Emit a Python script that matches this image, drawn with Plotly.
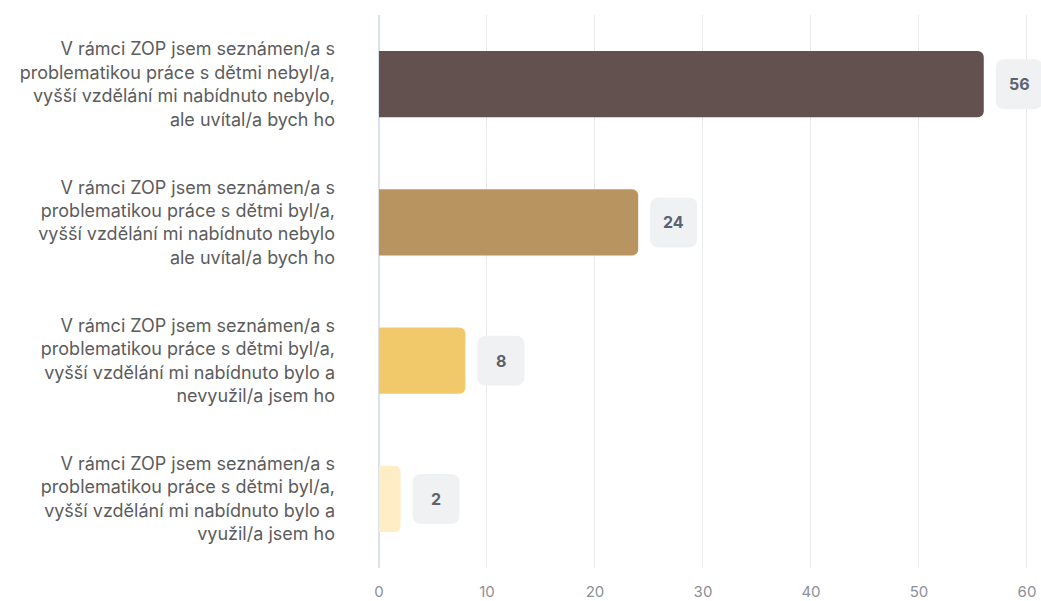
import plotly.graph_objects as go

categories = [
    "V rámci ZOP jsem seznámen/a s<br>problematikou práce s dětmi nebyl/a,<br>vyšší vzdělání mi nabídnuto nebylo,<br>ale uvítal/a bych ho",
    "V rámci ZOP jsem seznámen/a s<br>problematikou práce s dětmi byl/a,<br>vyšší vzdělání mi nabídnuto nebylo<br>ale uvítal/a bych ho",
    "V rámci ZOP jsem seznámen/a s<br>problematikou práce s dětmi byl/a,<br>vyšší vzdělání mi nabídnuto bylo a<br>nevyužil/a jsem ho",
    "V rámci ZOP jsem seznámen/a s<br>problematikou práce s dětmi byl/a,<br>vyšší vzdělání mi nabídnuto bylo a<br>využil/a jsem ho",
]
values = [56, 24, 8, 2]
colors = ["#635150", "#b89460", "#f1c96b", "#feedc5"]
x_ticks = [0, 10, 20, 30, 40, 50, 60]

FONT = "Inter, Roboto, sans-serif"

fig = go.Figure()
fig.add_trace(go.Bar(
    x=values, y=categories, orientation="h",
    marker=dict(color=colors, line=dict(width=0)),
    width=0.48, hoverinfo="skip",
))

# value badges: rounded boxes anchored at each bar end
def rounded_path(x0, y0, x1, y1, r):
    return (f"M{x0+r},{y0} L{x1-r},{y0} Q{x1},{y0} {x1},{y0+r} "
            f"L{x1},{y1-r} Q{x1},{y1} {x1-r},{y1} L{x0+r},{y1} "
            f"Q{x0},{y1} {x0},{y1-r} L{x0},{y0+r} Q{x0},{y0} {x0+r},{y0} Z")

BADGE_W = 47
for v, c in zip(values, categories):
    fig.add_shape(
        type="path", xref="x", yref="y",
        xsizemode="pixel", ysizemode="pixel", xanchor=v, yanchor=c,
        path=rounded_path(12, -25, 12 + BADGE_W, 25, 9),
        fillcolor="#f0f1f2", line=dict(width=0), layer="above",
    )
    fig.add_annotation(
        x=v, y=c, xref="x", yref="y", text=f"<b>{v}</b>", showarrow=False,
        xanchor="center", xshift=12 + BADGE_W / 2,
        font=dict(family=FONT, size=16, color="#5b6270"),
    )

fig.update_layout(
    width=1041, height=601,
    margin=dict(l=379, r=0, t=15, b=33),
    paper_bgcolor="white", plot_bgcolor="white",
    showlegend=False, barcornerradius=6,
    font=dict(family=FONT),
)
fig.update_xaxes(
    range=[0, 61.3], tickvals=x_ticks, showgrid=True, gridcolor="#e8e9eb",
    gridwidth=1, zeroline=True, zerolinecolor="#dbe2ec", zerolinewidth=2,
    ticks="outside", ticklen=10, tickcolor="rgba(0,0,0,0)",
    tickfont=dict(family=FONT, size=15, color="#8c9098"), fixedrange=True,
    automargin=False,
)
fig.update_yaxes(
    autorange="reversed", showgrid=False, ticks="",
    ticklabelstandoff=43, automargin=False,
    tickfont=dict(family=FONT, size=18, color="#5c5c5c"), fixedrange=True,
)

fig.write_html(
    "out.html",
    config={"displayModeBar": False},
    post_script="document.body.style.margin='0';document.body.style.overflow='hidden';",
)
